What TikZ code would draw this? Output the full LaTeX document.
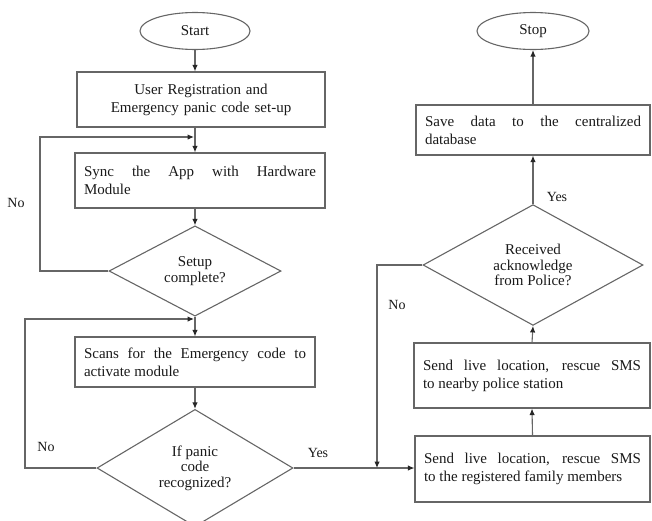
\documentclass[tikz,border=0pt]{standalone}
\usepackage{fontspec}
\setmainfont{Liberation Serif}
\usetikzlibrary{shapes.geometric,arrows.meta}
\begin{document}
\begin{tikzpicture}[x=1pt,y=-1pt,
  every node/.style={font=\fontsize{15}{18}\selectfont, text=black!90},
  line/.style={draw=black!60, line width=1.1pt},
  arr/.style={line, -{Latex[length=6.5pt,width=5.5pt,color=black!85]}},
  term/.style={ellipse, line, minimum width=110pt, minimum height=37pt, inner sep=0pt},
  procbox/.style={rectangle, line, inner sep=9pt, align=justify},
  decision/.style={diamond, line, inner sep=0pt, align=center, font=\fontsize{15}{15.5}\selectfont},
  lbl/.style={font=\fontsize{14}{16}\selectfont},
]
\useasboundingbox (0,0) rectangle (652,520);

% left column
\node[term] (start) at (195,31) {Start};
\node[procbox, align=center, text width=230pt, minimum height=55pt] (b1) at (201,99.5)
  {User Registration and\\Emergency panic code set-up};
\node[procbox, text width=232pt, minimum height=55pt] (b2) at (200,180.5)
  {Sync the App with Hardware\linebreak Module};
\node[decision, minimum width=172pt, minimum height=80pt] (d1) at (195,271)
  {Setup\\complete?};
\node[procbox, text width=222pt, minimum height=50pt] (b3) at (195,362)
  {Scans for the Emergency code to\linebreak activate module};
\node[decision, minimum width=196pt, minimum height=110pt] (d2) at (195,468)
  {If panic\\code\\recognized?};

% right column
\node[term, minimum width=112pt] (stop) at (533,31) {Stop};
\node[procbox, text width=216pt, minimum height=50pt] (b6) at (533,130)
  {Save data to the centralized\linebreak database};
\node[decision, minimum width=220pt, minimum height=106pt] (d3) at (533,265)
  {Received\\acknowledge\\from Police?};
\node[procbox, text width=218pt, minimum height=65pt] (b4) at (532,375.5)
  {Send live location, rescue SMS\linebreak to nearby police station};
\node[procbox, text width=217pt, minimum height=66pt] (b5) at (532.5,469)
  {Send live location, rescue SMS\linebreak to the registered family members};

% labels
\node[lbl] (no1) at (16,203) {No};
\node[lbl] (no2) at (46,447) {No};
\node[lbl] (yes1) at (318,453) {Yes};
\node[lbl] (yes2) at (557,197) {Yes};
\node[lbl] (no3) at (397,305) {No};

% helper coordinates
\coordinate (m1) at (195,137);
\coordinate (l1) at (40,137);
\coordinate (m2) at (195,319);
\coordinate (l2) at (25,319);
\coordinate (j) at (377,468);

% connectors
\draw[arr] (start.south) -- (start.south |- b1.north);
\draw[arr] (d1.north |- b1.south) -- (d1.north |- b2.north);
\draw[arr] (d1.west) -| (l1) -- ([xshift=-1pt]m1);
\draw[arr] (d1.north |- b2.south) -- (d1.north);
\draw[arr] (d1.south) -- (b3.north);
\draw[arr] (d2.west) -| (l2) -- ([xshift=-1pt]m2);
\draw[arr] (b3.south) -- (d2.north);
\draw[arr] (d2.east) -- (d2.east -| b5.west);
\draw[arr] (d3.west) -| (j);
\draw[arr] (b5.north) -- (b4.south);
\draw[arr] (b4.north) -- (d3.south);
\draw[arr] (d3.north) -- (b6.south);
\draw[arr] (b6.north) -- (stop.south);
\end{tikzpicture}
\end{document}
